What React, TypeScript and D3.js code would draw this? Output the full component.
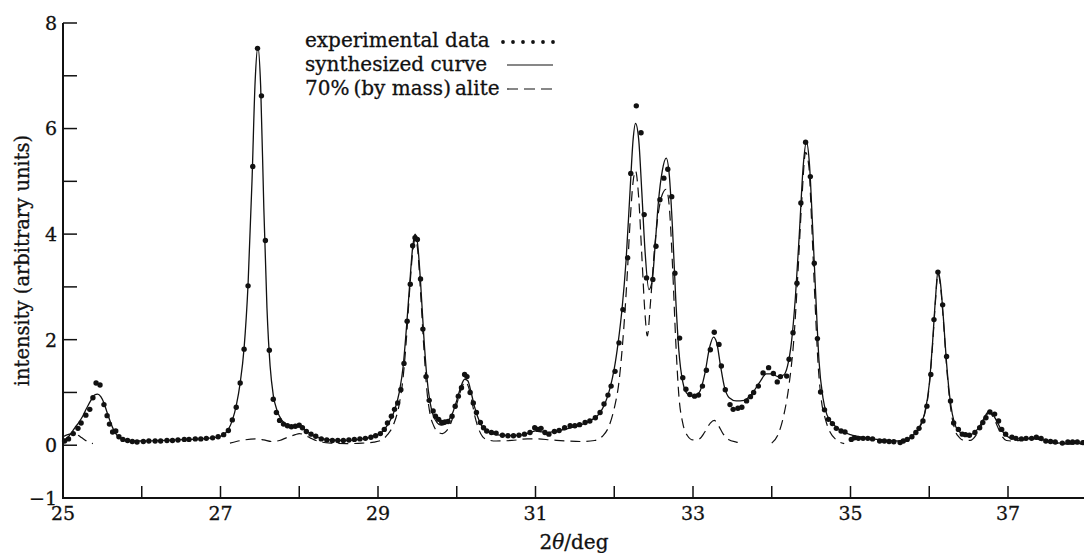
import * as d3 from 'd3';

const width = 1084;
const height = 553;

// axis ticks
const xTicks = [25, 26, 27, 28, 29, 30, 31, 32, 33, 34, 35, 36, 37, 38];
const xLabels = [25, 27, 29, 31, 33, 35, 37];
const yTicks = [-1, 0, 1, 2, 3, 4, 5, 6, 7, 8];
const yLabels = [-1, 0, 2, 4, 6, 8];

const legendLabels = ['experimental data', 'synthesized curve', '70%\u2009(by mass)\u2009alite'];

// measured points [2theta, intensity]
const experimental: [number, number][] = [
  [25.02, 0.08], [25.07, 0.12], [25.13, 0.22], [25.19, 0.32], [25.23, 0.42], [25.29, 0.57],
  [25.34, 0.68], [25.38, 0.9], [25.42, 1.18], [25.47, 1.14], [25.52, 0.77], [25.56, 0.56],
  [25.59, 0.4], [25.63, 0.25], [25.67, 0.27], [25.71, 0.16], [25.76, 0.11], [25.82, 0.09],
  [25.88, 0.07], [25.94, 0.06], [26.02, 0.07], [26.09, 0.08], [26.17, 0.08], [26.24, 0.08],
  [26.32, 0.09], [26.39, 0.09], [26.46, 0.1], [26.54, 0.11], [26.6, 0.11], [26.68, 0.12],
  [26.75, 0.12], [26.82, 0.13], [26.9, 0.14], [26.97, 0.16], [27.04, 0.2], [27.1, 0.28],
  [27.15, 0.48], [27.2, 0.72], [27.25, 1.18], [27.3, 1.82], [27.35, 3.02], [27.41, 5.28],
  [27.47, 7.52], [27.52, 6.62], [27.57, 3.88], [27.62, 1.8], [27.67, 0.87], [27.71, 0.62],
  [27.75, 0.47], [27.8, 0.4], [27.85, 0.37], [27.9, 0.35], [27.95, 0.36], [28.0, 0.38],
  [28.04, 0.33], [28.09, 0.26], [28.15, 0.21], [28.21, 0.17], [28.28, 0.12], [28.35, 0.1],
  [28.42, 0.09], [28.49, 0.09], [28.56, 0.09], [28.63, 0.1], [28.7, 0.11], [28.77, 0.12],
  [28.84, 0.13], [28.91, 0.15], [28.97, 0.18], [29.03, 0.22], [29.08, 0.3], [29.12, 0.42],
  [29.17, 0.55], [29.21, 0.68], [29.25, 0.8], [29.29, 1.05], [29.33, 1.55], [29.37, 2.35],
  [29.41, 3.05], [29.44, 3.78], [29.47, 3.93], [29.5, 3.9], [29.54, 3.15], [29.57, 2.2],
  [29.61, 1.3], [29.65, 0.85], [29.7, 0.65], [29.73, 0.55], [29.77, 0.49], [29.81, 0.43],
  [29.85, 0.44], [29.89, 0.45], [29.94, 0.55], [29.98, 0.74], [30.02, 0.93], [30.06, 1.09],
  [30.1, 1.34], [30.13, 1.3], [30.17, 1.0], [30.21, 0.8], [30.25, 0.62], [30.3, 0.43],
  [30.34, 0.33], [30.38, 0.27], [30.44, 0.24], [30.5, 0.23], [30.58, 0.19], [30.65, 0.18],
  [30.72, 0.18], [30.79, 0.19], [30.86, 0.21], [30.93, 0.24], [30.99, 0.33], [31.03, 0.3],
  [31.07, 0.32], [31.12, 0.24], [31.17, 0.21], [31.24, 0.26], [31.3, 0.28], [31.37, 0.33],
  [31.44, 0.37], [31.5, 0.37], [31.56, 0.39], [31.63, 0.43], [31.69, 0.46], [31.76, 0.52],
  [31.82, 0.62], [31.87, 0.78], [31.92, 0.95], [31.96, 1.12], [32.01, 1.4], [32.06, 1.94],
  [32.11, 2.57], [32.17, 3.55], [32.21, 5.15], [32.28, 6.43], [32.34, 5.92], [32.38, 4.37],
  [32.41, 3.17], [32.49, 3.14], [32.53, 3.77], [32.58, 4.65], [32.63, 5.06], [32.68, 5.23],
  [32.73, 4.71], [32.77, 3.26], [32.83, 2.03], [32.87, 1.28], [32.91, 1.06], [32.96, 0.96],
  [33.02, 0.93], [33.07, 0.95], [33.12, 1.12], [33.17, 1.42], [33.22, 1.81], [33.27, 2.14],
  [33.33, 1.91], [33.36, 1.5], [33.41, 1.05], [33.47, 0.77], [33.51, 0.68], [33.57, 0.7],
  [33.62, 0.72], [33.68, 0.84], [33.73, 0.92], [33.77, 1.0], [33.83, 1.12], [33.89, 1.37],
  [33.96, 1.47], [34.02, 1.36], [34.07, 1.2], [34.11, 1.3], [34.19, 1.31], [34.22, 1.63],
  [34.27, 2.13], [34.32, 3.07], [34.37, 4.59], [34.43, 5.74], [34.49, 5.09], [34.54, 3.45],
  [34.58, 2.02], [34.62, 1.01], [34.67, 0.67], [34.72, 0.49], [34.77, 0.41], [34.82, 0.32],
  [34.88, 0.27], [34.93, 0.25], [35.01, 0.11], [35.05, 0.14], [35.1, 0.13], [35.16, 0.13],
  [35.22, 0.13], [35.28, 0.12], [35.37, 0.08], [35.43, 0.08], [35.49, 0.07], [35.55, 0.065],
  [35.63, 0.05], [35.67, 0.08], [35.72, 0.11], [35.78, 0.16], [35.83, 0.24], [35.87, 0.32],
  [35.92, 0.46], [35.97, 0.74], [36.02, 1.34], [36.06, 2.38], [36.11, 3.28], [36.17, 2.66],
  [36.22, 1.68], [36.27, 0.84], [36.31, 0.42], [36.37, 0.3], [36.42, 0.21], [36.46, 0.2],
  [36.51, 0.19], [36.58, 0.24], [36.64, 0.33], [36.68, 0.43], [36.72, 0.52], [36.77, 0.63],
  [36.83, 0.59], [36.88, 0.46], [36.92, 0.3], [36.97, 0.21], [37.05, 0.15], [37.1, 0.13],
  [37.17, 0.12], [37.23, 0.13], [37.3, 0.13], [37.36, 0.15], [37.42, 0.13], [37.48, 0.08],
  [37.54, 0.07], [37.6, 0.06], [37.69, 0.04], [37.76, 0.06], [37.82, 0.06], [37.88, 0.06],
  [37.95, 0.05],
];

// fitted curve
const synthesized: [number, number][] = [
  [25.0, 0.09], [25.05, 0.13], [25.1, 0.22], [25.15, 0.33], [25.2, 0.43], [25.25, 0.55],
  [25.3, 0.7], [25.35, 0.84], [25.4, 0.95], [25.44, 0.97], [25.48, 0.92], [25.52, 0.8],
  [25.56, 0.62], [25.6, 0.45], [25.64, 0.3], [25.68, 0.2], [25.74, 0.13], [25.8, 0.1],
  [25.9, 0.08], [26.0, 0.08], [26.3, 0.09], [26.6, 0.11], [26.9, 0.14], [27.0, 0.17],
  [27.05, 0.21], [27.1, 0.3], [27.15, 0.47], [27.2, 0.75], [27.25, 1.18], [27.3, 1.85],
  [27.35, 3.05], [27.4, 5.0], [27.44, 6.9], [27.475, 7.55], [27.51, 6.8], [27.55, 4.5],
  [27.59, 2.6], [27.63, 1.5], [27.67, 0.95], [27.72, 0.65], [27.78, 0.47], [27.85, 0.38],
  [27.92, 0.34], [28.0, 0.35], [28.05, 0.32], [28.12, 0.24], [28.2, 0.17], [28.3, 0.12],
  [28.4, 0.1], [28.6, 0.09], [28.8, 0.12], [28.95, 0.17], [29.05, 0.25], [29.12, 0.38],
  [29.2, 0.62], [29.27, 1.0], [29.32, 1.5], [29.36, 2.2], [29.4, 3.0], [29.44, 3.75],
  [29.47, 4.0], [29.5, 3.85], [29.54, 3.1], [29.58, 2.1], [29.62, 1.3], [29.66, 0.82],
  [29.7, 0.57], [29.75, 0.43], [29.8, 0.38], [29.85, 0.4], [29.9, 0.48], [29.95, 0.62],
  [30.0, 0.85], [30.05, 1.1], [30.1, 1.25], [30.14, 1.22], [30.18, 1.02], [30.22, 0.76],
  [30.27, 0.52], [30.32, 0.36], [30.38, 0.27], [30.45, 0.22], [30.55, 0.19], [30.7, 0.18],
  [30.85, 0.2], [30.95, 0.25], [31.0, 0.27], [31.05, 0.26], [31.15, 0.24], [31.3, 0.28],
  [31.45, 0.33], [31.6, 0.4], [31.7, 0.47], [31.8, 0.58], [31.88, 0.78], [31.95, 1.1],
  [32.0, 1.45], [32.05, 1.95], [32.1, 2.6], [32.15, 3.5], [32.2, 4.8], [32.24, 5.8],
  [32.27, 6.1], [32.31, 5.8], [32.35, 4.8], [32.39, 3.7], [32.44, 2.95], [32.48, 3.1],
  [32.52, 3.8], [32.56, 4.6], [32.61, 5.2], [32.66, 5.44], [32.7, 5.1], [32.74, 4.1],
  [32.78, 2.8], [32.82, 1.8], [32.87, 1.2], [32.93, 0.97], [33.0, 0.93], [33.08, 1.0],
  [33.15, 1.35], [33.21, 1.85], [33.26, 2.05], [33.3, 1.95], [33.35, 1.5], [33.4, 1.1],
  [33.46, 0.9], [33.55, 0.84], [33.65, 0.85], [33.75, 0.98], [33.85, 1.2], [33.93, 1.35],
  [34.0, 1.35], [34.08, 1.3], [34.15, 1.33], [34.2, 1.5], [34.25, 1.95], [34.3, 2.8],
  [34.35, 4.0], [34.4, 5.3], [34.44, 5.75], [34.48, 5.3], [34.52, 4.1], [34.56, 2.8],
  [34.6, 1.6], [34.65, 0.9], [34.7, 0.58], [34.78, 0.4], [34.88, 0.28], [35.0, 0.2],
  [35.2, 0.14], [35.4, 0.1], [35.6, 0.08], [35.7, 0.1], [35.8, 0.2], [35.88, 0.36],
  [35.94, 0.6], [36.0, 1.15], [36.04, 1.9], [36.08, 2.8], [36.11, 3.3], [36.14, 3.1],
  [36.18, 2.4], [36.22, 1.55], [36.27, 0.8], [36.32, 0.42], [36.38, 0.26], [36.45, 0.2],
  [36.52, 0.2], [36.6, 0.28], [36.67, 0.44], [36.72, 0.58], [36.76, 0.65], [36.8, 0.6],
  [36.86, 0.45], [36.92, 0.28], [36.98, 0.18], [37.05, 0.13], [37.2, 0.12], [37.35, 0.14],
  [37.45, 0.1], [37.6, 0.05], [37.8, 0.03], [38.0, 0.03],
];

// alite contribution, null = gap in the dashed curve
const alite: ([number, number] | null)[] = [
  [25.0, 0.16], [25.06, 0.2], [25.12, 0.22], [25.18, 0.2], [25.24, 0.14], [25.3, 0.08], [25.38, 0.03],
  null,
  [27.12, 0.04], [27.2, 0.07], [27.3, 0.1], [27.45, 0.12], [27.55, 0.1], [27.65, 0.07],
  [27.75, 0.09], [27.85, 0.15], [27.95, 0.2], [28.0, 0.22], [28.06, 0.2], [28.15, 0.13],
  [28.25, 0.07], [28.4, 0.04], [28.6, 0.03], [28.8, 0.04], [28.95, 0.06], [29.05, 0.1],
  [29.12, 0.2], [29.2, 0.4], [29.27, 0.78], [29.32, 1.3], [29.36, 2.0], [29.4, 2.9],
  [29.44, 3.65], [29.47, 3.9], [29.5, 3.75], [29.54, 2.9], [29.58, 1.9], [29.62, 1.05],
  [29.66, 0.6], [29.71, 0.36], [29.77, 0.24], [29.82, 0.22], [29.87, 0.27], [29.92, 0.4],
  [29.97, 0.62], [30.02, 0.88], [30.07, 1.12], [30.11, 1.2], [30.15, 1.1], [30.19, 0.85],
  [30.23, 0.55], [30.28, 0.3], [30.33, 0.16], [30.4, 0.1], [30.5, 0.08], [30.7, 0.09],
  [30.9, 0.12], [31.0, 0.12], [31.2, 0.1], [31.4, 0.08], [31.6, 0.07], [31.75, 0.09],
  [31.85, 0.17], [31.93, 0.35], [32.0, 0.7], [32.06, 1.2], [32.11, 2.0], [32.16, 3.1],
  [32.2, 4.2], [32.24, 5.0], [32.27, 5.2], [32.31, 4.7], [32.35, 3.6], [32.39, 2.5],
  [32.42, 2.07], [32.46, 2.7], [32.51, 3.7], [32.56, 4.4], [32.61, 4.75], [32.66, 4.85],
  [32.7, 4.5], [32.74, 3.4], [32.78, 2.0], [32.82, 0.95], [32.87, 0.42], [32.93, 0.18],
  [33.0, 0.1], [33.08, 0.12], [33.15, 0.25], [33.22, 0.42], [33.27, 0.47], [33.32, 0.38],
  [33.38, 0.22], [33.45, 0.11], [33.55, 0.06], [33.62, 0.04],
  null,
  [34.0, 0.04], [34.08, 0.2], [34.15, 0.55], [34.22, 1.15], [34.28, 2.0], [34.33, 3.2],
  [34.38, 4.6], [34.43, 5.55], [34.47, 5.3], [34.51, 4.1], [34.55, 2.7], [34.59, 1.5],
  [34.63, 0.85], [34.68, 0.5], [34.74, 0.25], [34.82, 0.1], [34.92, 0.03],
  null,
  [35.7, 0.08], [35.8, 0.18], [35.88, 0.34], [35.94, 0.58], [36.0, 1.12], [36.04, 1.85],
  [36.08, 2.75], [36.11, 3.25], [36.14, 3.05], [36.18, 2.35], [36.22, 1.5], [36.27, 0.72],
  [36.32, 0.32], [36.38, 0.15], [36.45, 0.09], [36.52, 0.09], [36.6, 0.2], [36.67, 0.4],
  [36.72, 0.55], [36.76, 0.62], [36.8, 0.56], [36.86, 0.38], [36.92, 0.18], [36.98, 0.09],
  [37.05, 0.08], [37.2, 0.1], [37.35, 0.12], [37.45, 0.08], [37.6, 0.04], [37.8, 0.02], [38.0, 0.02],
];

const font = '"DejaVu Serif", serif';
const ink = '#111';

const App = () => {
  const x = d3.scaleLinear().domain([25, 38]).range([63, 1086.75]);
  const y = d3.scaleLinear().domain([-1, 8]).range([498, 23]);

  const line = d3.line<[number, number]>()
    .x(d => x(d[0]))
    .y(d => y(d[1]))
    .curve(d3.curveMonotoneX);

  const dashed = d3.line<[number, number] | null>()
    .defined(d => d != null)
    .x(d => x(d![0]))
    .y(d => y(d![1]))
    .curve(d3.curveMonotoneX);

  const [x0] = x.range();
  const [y0, y1] = y.range();

  // legend layout
  const lx = 305;
  const ly = [47, 71, 95];
  const sx0 = 503;
  const sx1 = 553;
  const legendDots = d3.range(6).map(i => sx0 + i * ((sx1 - sx0) / 5));

  // scanned print looks a bit heavier than the plain font
  const textStyle = { fontFamily: font, fill: ink, stroke: ink, strokeWidth: 0.3 };

  return (
    <svg width={width} height={height} style={{ position: 'absolute', left: 0, top: 0, background: '#fff' }}>
      {/* axes */}
      <line x1={x0} x2={width} y1={y0} y2={y0} stroke={ink} strokeWidth={2} />
      <line x1={x0} x2={x0} y1={y0 + 1} y2={y1} stroke={ink} strokeWidth={2} />
      {xTicks.map(t => (
        <line key={'xt' + t} x1={x(t)} x2={x(t)} y1={y0} y2={y0 - 12} stroke={ink} strokeWidth={1.5} />
      ))}
      {yTicks.map(t => (
        <line key={'yt' + t} x1={x0} x2={x0 + 14} y1={y(t)} y2={y(t)} stroke={ink} strokeWidth={1.5} />
      ))}
      {xLabels.map(t => (
        <text key={'xl' + t} x={x(t)} y={y0 + 22} textAnchor="middle" fontSize={19} {...textStyle}>{t}</text>
      ))}
      {yLabels.map(t => (
        <text key={'yl' + t} x={x0 - 6} y={y(t)} dy="0.36em" textAnchor="end" fontSize={19} {...textStyle}>
          {t < 0 ? '\u2212' + Math.abs(t) : t}
        </text>
      ))}
      <text x={574} y={549} textAnchor="middle" fontSize={20} {...textStyle}>
        2<tspan fontStyle="italic">θ</tspan>/deg
      </text>
      <text transform={`translate(22,${(y0 + y1) / 2}) rotate(-90)`} dy="0.35em" textAnchor="middle" fontSize={19.5} {...textStyle}>
        intensity (arbitrary units)
      </text>

      {/* curves */}
      <path d={dashed(alite) || ''} fill="none" stroke={ink} strokeWidth={1.2} strokeDasharray="10 6" />
      <path d={line(synthesized) || ''} fill="none" stroke={ink} strokeWidth={1.3} />
      {experimental.map((d, i) => (
        <circle key={i} cx={x(d[0])} cy={y(d[1])} r={2.7} fill={ink} />
      ))}

      {/* legend */}
      {legendLabels.map((s, i) => (
        <text key={s} x={lx} y={ly[i]} fontSize={20} {...textStyle}>{s}</text>
      ))}
      {legendDots.map((d, i) => (
        <circle key={'ld' + i} cx={d} cy={ly[0] - 5} r={1.9} fill={ink} />
      ))}
      <line x1={sx0 + 4} x2={sx1} y1={ly[1] - 6} y2={ly[1] - 6} stroke={ink} strokeWidth={1.2} />
      <line x1={sx0 + 4} x2={sx1} y1={ly[2] - 6} y2={ly[2] - 6} stroke={ink} strokeWidth={1.2} strokeDasharray="11 6" />
    </svg>
  );
};

export default App;
